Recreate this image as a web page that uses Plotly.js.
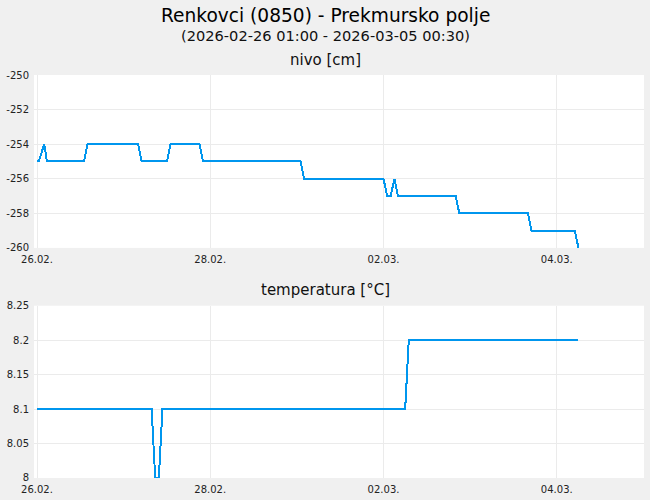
<!DOCTYPE html>
<html>
<head>
<meta charset="utf-8">
<script src="https://cdn.plot.ly/plotly-3.0.1.min.js"></script>
<style>
  body { margin: 0; background: #f0f0f0; }
  #graf .js-line { shape-rendering: crispEdges; }
</style>
</head>
<body>
<div id="graf" style="width:650px;height:500px;"></div>
<script>
// nivo [cm]
var nivoCas = [
    '2026-02-26 00:00', '2026-02-26 00:30', '2026-02-26 02:00', '2026-02-26 02:45',
    '2026-02-26 13:00', '2026-02-26 14:00', '2026-02-27 04:00', '2026-02-27 05:00',
    '2026-02-27 12:00', '2026-02-27 13:00', '2026-02-27 21:00', '2026-02-27 22:00',
    '2026-03-01 01:00', '2026-03-01 02:00', '2026-03-02 00:00', '2026-03-02 01:00',
    '2026-03-02 02:00', '2026-03-02 03:00', '2026-03-02 04:00', '2026-03-02 20:00',
    '2026-03-02 21:00', '2026-03-03 16:00', '2026-03-03 17:00', '2026-03-04 05:00',
    '2026-03-04 06:00'
];
var nivo = [
    -255, -255, -254, -255,
    -255, -254, -254, -255,
    -255, -254, -254, -255,
    -255, -256, -256, -257,
    -257, -256, -257, -257,
    -258, -258, -259, -259,
    -260
];

// temperatura [°C]
var tempCas = [
    '2026-02-26 00:00', '2026-02-27 07:45', '2026-02-27 08:45', '2026-02-27 09:45',
    '2026-02-27 10:45', '2026-03-02 06:00', '2026-03-02 07:00', '2026-03-04 06:00'
];
var temp = [8.1, 8.1, 8.0, 8.0, 8.1, 8.1, 8.2, 8.2];

// oznake osi
var nivoTicks = [-260, -258, -256, -254, -252, -250];
var nivoTickText = ['-260', '-258', '-256', '-254', '-252', '-250'];
var tempTicks = [8, 8.05, 8.1, 8.15, 8.2, 8.25];
var tempTickText = ['8', '8.05', '8.1', '8.15', '8.2', '8.25'];

var barva = '#0096ee';
var font = 'DejaVu Sans, Verdana, sans-serif';
var sredina = (325 - 34) / 610; // sredina celotne slike v koordinatah papirja

var trace1 = {
    x: nivoCas,
    y: nivo,
    type: 'scatter',
    mode: 'lines',
    line: {color: barva, width: 2},
    xaxis: 'x',
    yaxis: 'y'
};

var trace2 = {
    x: tempCas,
    y: temp,
    type: 'scatter',
    mode: 'lines',
    line: {color: barva, width: 2},
    xaxis: 'x2',
    yaxis: 'y2'
};

var xos = {
    type: 'date',
    range: ['2026-02-25 23:10', '2026-03-05 00:10'],
    tickformat: '%d.%m.',
    dtick: 2 * 86400000,
    tick0: '2026-02-26',
    showgrid: true,
    gridcolor: '#ebebeb',
    zeroline: false,
    showline: false,
    ticklabelstandoff: 4,
    tickfont: {size: 10, color: '#222'}
};

var yos = {
    gridcolor: '#ebebeb',
    zeroline: false,
    tickmode: 'array',
    ticklabelstandoff: 4,
    tickfont: {size: 10, color: '#222'}
};

var layout = {
    width: 650,
    height: 500,
    paper_bgcolor: '#f0f0f0',
    plot_bgcolor: '#ffffff',
    font: {family: font, color: '#111'},
    showlegend: false,
    margin: {l: 34, r: 6, t: 75, b: 22},
    xaxis: Object.assign({}, xos, {anchor: 'y'}),
    xaxis2: Object.assign({}, xos, {anchor: 'y2', matches: 'x'}),
    yaxis: Object.assign({}, yos, {
        domain: [0.571, 1],
        range: [-260, -250],
        tickvals: nivoTicks,
        ticktext: nivoTickText
    }),
    yaxis2: Object.assign({}, yos, {
        domain: [0, 0.4275],
        range: [8, 8.25],
        tickvals: tempTicks,
        ticktext: tempTickText
    }),
    annotations: [
        {text: 'Renkovci (0850) - Prekmursko polje', xref: 'paper', yref: 'paper',
         x: sredina, y: 1, yshift: 60, xanchor: 'center', yanchor: 'middle', showarrow: false,
         font: {size: 18.6, color: '#000'}},
        {text: '(2026-02-26 01:00 - 2026-03-05 00:30)', xref: 'paper', yref: 'paper',
         x: sredina, y: 1, yshift: 40, xanchor: 'center', yanchor: 'middle', showarrow: false,
         font: {size: 14.6}},
        {text: 'nivo [cm]', xref: 'paper', yref: 'paper', x: sredina, y: 1, yshift: 15,
         xanchor: 'center', yanchor: 'middle', showarrow: false, font: {size: 15}},
        {text: 'temperatura [°C]', xref: 'paper', yref: 'paper', x: sredina, y: 0.4275, yshift: 16,
         xanchor: 'center', yanchor: 'middle', showarrow: false, font: {size: 15}}
    ]
};

Plotly.newPlot('graf', [trace1, trace2], layout, {displayModeBar: false, staticPlot: true});
</script>
</body>
</html>
